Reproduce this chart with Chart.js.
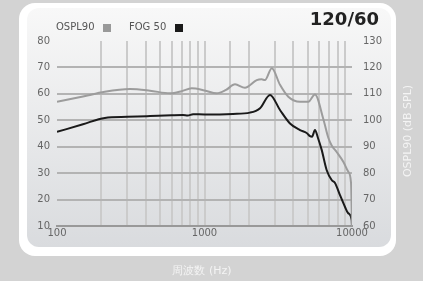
<!DOCTYPE html>
<html>
<head>
<meta charset="utf-8">
<script src="https://cdn.jsdelivr.net/npm/chart.js@4/dist/chart.umd.min.js"></script>
<style>
  html, body { margin: 0; padding: 0; background: #d3d3d3; }
  #wrap { width: 423px; height: 281px; }
</style>
</head>
<body>
<div id="wrap"><canvas id="myChart" width="423" height="281"></canvas></div>
<script>
// OSPL90 curve (right axis, dB SPL)
const osplFreq = [100, 150, 211, 313, 427, 584, 700, 819, 1000, 1210, 1400, 1610, 1880, 2260, 2440, 2570, 2860, 3250, 3700, 4440, 5060, 5610, 6390, 6900, 7280, 7870, 8730, 9440, 9850, 10000]
const osplVals = [107, 109, 110.8, 111.8, 111.2, 110.2, 111, 112.1, 111.3, 110.2, 111.5, 113.6, 112.3, 115.2, 115.5, 115.2, 119.7, 113.4, 108.9, 107, 107, 109.8, 100.5, 93.5, 90.5, 88, 84.3, 80.5, 76.3, 60]

// FOG 50 curve (left axis)
const fogFreq = [100, 150, 211, 300, 427, 600, 714, 770, 836, 1000, 1560, 2030, 2380, 2780, 3250, 3800, 4440, 4930, 5190, 5360, 5610, 5880, 6230, 6730, 7280, 7670, 8290, 8970, 9400, 9950, 10000]
const fogVals = [45.6, 48.5, 50.9, 51.3, 51.6, 51.9, 52.0, 51.8, 52.3, 52.2, 52.4, 52.9, 54.6, 59.6, 53.9, 48.8, 46.3, 45.2, 44, 43.8, 46.3, 43.3, 38.8, 31.2, 27.4, 26.3, 21.7, 17.2, 14.9, 12.3, 10]

const xLabels = [100, 1000, 10000]
const leftTicks = [10, 20, 30, 40, 50, 60, 70, 80]
const rightTicks = [60, 70, 80, 90, 100, 110, 120, 130]

const font = 'DejaVu Sans'

const toPoints = (xs, ys) => xs.map((x, i) => ({ x: x, y: ys[i] }))

// card, legend, title and axis titles
const decor = {
  id: 'decor',
  beforeDraw(chart) {
    const c = chart.ctx
    c.save()
    c.fillStyle = '#d3d3d3'
    c.fillRect(0, 0, chart.width, chart.height)
    c.fillStyle = '#ffffff'
    c.beginPath()
    c.roundRect(19, 3, 377, 253, 16)
    c.fill()
    const g = c.createLinearGradient(0, 8, 0, 247)
    g.addColorStop(0, '#f8f8f8')
    g.addColorStop(1, '#d9dbde')
    c.fillStyle = g
    c.beginPath()
    c.roundRect(27, 8, 364, 239, 12)
    c.fill()
    c.restore()
  },
  afterDraw(chart) {
    const c = chart.ctx
    c.save()
    // legend
    c.font = '10px "' + font + '"'
    c.textBaseline = 'middle'
    c.fillStyle = '#555'
    c.textAlign = 'left'
    c.fillText('OSPL90', 56, 27)
    c.fillStyle = '#999'
    c.fillRect(103, 24, 8, 8)
    c.fillStyle = '#555'
    c.fillText('FOG 50', 129, 27)
    c.fillStyle = '#1a1a1a'
    c.fillRect(175, 24, 8, 8)
    // title
    c.font = 'bold 18px "' + font + '"'
    c.fillStyle = '#222'
    c.textAlign = 'right'
    c.fillText('120/60', 379, 20)
    // x axis title
    c.font = '11px "' + font + '"'
    c.fillStyle = '#f4f4f4'
    c.textAlign = 'center'
    c.fillText('周波数 (Hz)', 202, 271)
    // right axis title
    c.translate(408, 131)
    c.rotate(-Math.PI / 2)
    c.fillText('OSPL90 (dB SPL)', 0, 0)
    c.restore()
  }
}

new Chart(document.getElementById('myChart'), {
  type: 'line',
  data: {
    datasets: [
      {
        label: 'OSPL90',
        data: toPoints(osplFreq, osplVals),
        yAxisID: 'y2',
        borderColor: '#9c9c9c',
        borderWidth: 2,
        pointRadius: 0,
        cubicInterpolationMode: 'monotone'
      },
      {
        label: 'FOG 50',
        data: toPoints(fogFreq, fogVals),
        yAxisID: 'y',
        borderColor: '#1a1a1a',
        borderWidth: 2,
        pointRadius: 0,
        cubicInterpolationMode: 'monotone'
      }
    ]
  },
  options: {
    responsive: false,
    animation: false,
    layout: { padding: { top: 41, left: 0, right: 0, bottom: 0 } },
    plugins: { legend: { display: false }, tooltip: { enabled: false } },
    scales: {
      x: {
        type: 'logarithmic',
        min: 100,
        max: 10000,
        border: { display: true, color: '#999', width: 2 },
        grid: {
          drawTicks: false,
          lineWidth: 2,
          color: (ctx) => {
            const v = ctx.tick && ctx.tick.value
            if (v === 100 || v === 10000) return 'rgba(0,0,0,0)'
            return '#cbcbcb'
          }
        },
        ticks: {
          autoSkip: false,
          maxRotation: 0,
          padding: 1,
          color: '#666',
          font: { family: font, size: 10 },
          callback: (value) => xLabels.includes(value) ? String(value) : ''
        },
        afterFit: (scale) => { scale.height = 55 }
      },
      y: {
        position: 'left',
        min: 10,
        max: 80,
        border: { display: false },
        grid: {
          drawTicks: false,
          lineWidth: 2,
          color: (ctx) => {
            const v = ctx.tick && ctx.tick.value
            if (v === 80 || v === 10) return 'rgba(0,0,0,0)'
            return '#b3b3b3'
          }
        },
        afterBuildTicks: (scale) => { scale.ticks = leftTicks.map(v => ({ value: v })) },
        ticks: {
          padding: 7,
          color: '#666',
          font: { family: font, size: 10 }
        },
        afterFit: (scale) => { scale.width = 57 }
      },
      y2: {
        position: 'right',
        min: 60,
        max: 130,
        border: { display: false },
        grid: { display: false, drawTicks: false },
        afterBuildTicks: (scale) => { scale.ticks = rightTicks.map(v => ({ value: v })) },
        ticks: {
          padding: 11,
          color: '#666',
          font: { family: font, size: 10 }
        },
        afterFit: (scale) => { scale.width = 71 }
      }
    }
  },
  plugins: [decor]
})
</script>
</body>
</html>
